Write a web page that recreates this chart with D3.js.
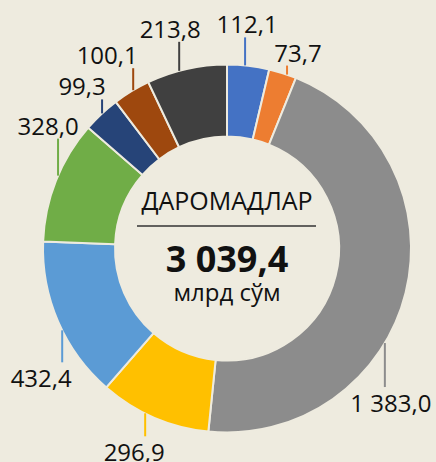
<!DOCTYPE html>
<html>
<head>
<meta charset="utf-8">
<script src="https://cdn.jsdelivr.net/npm/d3@7"></script>
<style>
  html, body { margin: 0; padding: 0; background: #EEEBDF; }
  svg { display: block; }
  text { font-family: "Open Sans", "Noto Sans", sans-serif; fill: #111; }
</style>
</head>
<body>
<svg id="chart" width="436" height="462"></svg>
<script>
// Revenue breakdown, billion som
const categories = ["A", "B", "C", "D", "E", "F", "G", "H", "I"];
const values = [112.1, 73.7, 1383.0, 296.9, 432.4, 328.0, 99.3, 100.1, 213.8];
const valueLabels = ["112,1", "73,7", "1 383,0", "296,9", "432,4", "328,0", "99,3", "100,1", "213,8"];
const colors = ["#4472C4", "#ED7D31", "#8C8C8C", "#FFC000", "#5B9BD5", "#70AD47", "#264478", "#9E480E", "#404040"];
const title = "ДАРОМАДЛАР";
const totalLabel = "3 039,4";
const unitLabel = "млрд сўм";

// Leader placement: angle nudge from slice middle (deg), leader length, text x offset
const labelLayout = [
  [-1, 28, 2], [1.4, 9, 11], [17, 44, 6], [3, 23, -11], [-3, 32, -21],
  [1.7, 37, -10], [0.3, 14, -20], [0.6, 22, -26], [-2.4, 29, -9]
];

const svg = d3.select("#chart");
const cx = 227, cy = 248.5, rOuter = 184, rInner = 112;
const g = svg.append("g").attr("transform", `translate(${cx},${cy})`);

const pie = d3.pie().sort(null).value(d => d.value);
const arcs = pie(categories.map((c, i) => ({ cat: c, value: values[i], i })));
const arc = d3.arc().innerRadius(rInner).outerRadius(rOuter);

g.selectAll("path.slice")
  .data(arcs)
  .enter().append("path")
  .attr("class", "slice")
  .attr("d", arc)
  .attr("fill", d => colors[d.data.i])
  .attr("stroke", "#EEEBDF")
  .attr("stroke-width", 2);

// Leader lines and value labels
arcs.forEach(d => {
  const [nudge, len, tdx] = labelLayout[d.data.i];
  const a = (d.startAngle + d.endAngle) / 2 + nudge * Math.PI / 180;
  const x = rOuter * Math.sin(a);
  const y = -rOuter * Math.cos(a);
  const up = Math.cos(a) > 0;
  const y2 = up ? y - len : y + len;
  g.append("line")
    .attr("x1", x).attr("y1", y)
    .attr("x2", x).attr("y2", y2)
    .attr("stroke", colors[d.data.i])
    .attr("stroke-width", 2);
  g.append("text")
    .attr("x", x + tdx)
    .attr("y", up ? y2 - 4 : y2 + 25)
    .attr("text-anchor", "middle")
    .attr("font-size", 24)
    .text(valueLabels[d.data.i]);
});

// Centre caption
g.append("text")
  .attr("x", 0).attr("y", -39)
  .attr("text-anchor", "middle")
  .attr("font-size", 25)
  .text(title);
g.append("line")
  .attr("x1", -90).attr("x2", 89)
  .attr("y1", -22.5).attr("y2", -22.5)
  .attr("stroke", "#333")
  .attr("stroke-width", 1.5);
g.append("text")
  .attr("x", 0).attr("y", 23.5)
  .attr("text-anchor", "middle")
  .attr("font-size", 36)
  .attr("font-weight", "bold")
  .text(totalLabel);
g.append("text")
  .attr("x", 0).attr("y", 52)
  .attr("text-anchor", "middle")
  .attr("font-size", 24)
  .text(unitLabel);
</script>
</body>
</html>
